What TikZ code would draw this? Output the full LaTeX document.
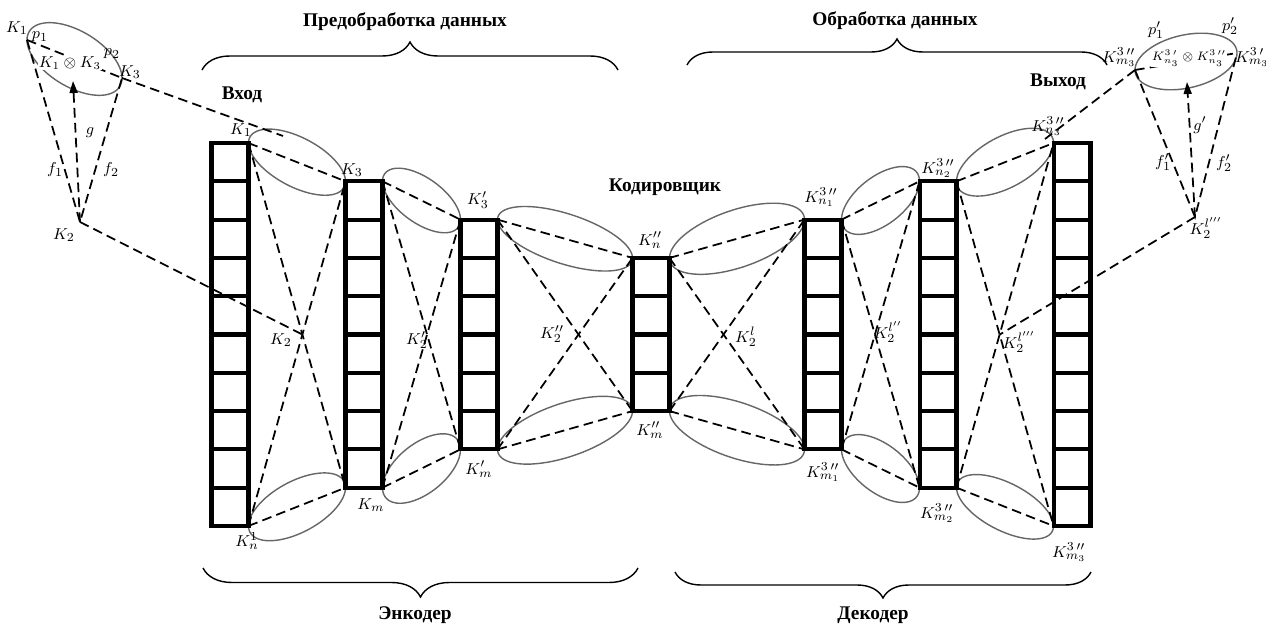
\documentclass[tikz,border=0pt]{standalone}
\usepackage{fontspec}
\setmainfont{Liberation Serif}
\usetikzlibrary{calc, arrows.meta, backgrounds, decorations.pathreplacing}
\tikzset{
	colbox/.style  ={rectangle, draw=black, line width=2.3pt, minimum width=0.74cm, inner sep=0pt, outer sep=0pt},
	cellline/.style={line width=2.3pt},
	dashline/.style={line width=1pt, dash pattern=on 5.5pt off 3pt},
	lobe/.style    ={draw=black!60, line width=0.8pt},
	head/.style    ={font=\fontsize{11}{13}\selectfont\bfseries},
	klab/.style    ={font=\fontsize{9.5}{11}\selectfont, inner sep=1pt},
	brc/.style     ={decorate, decoration={brace, amplitude=#1}, line width=0.8pt},
	garrow/.style  ={dashline, -{Triangle[length=2.4mm, width=1.6mm]}},
}
% ellipse through two corner points, #3 = half thickness (px)
\newcommand\drawlobe[3]{%
	\draw[lobe] let \p1=(#1), \p2=(#2) in
		plot[variable=\t, domain=0:360, samples=73]
		({(\x1+\x2)/2+(\x2-\x1)/2*cos(\t)}, {(\y1+\y2)/2+(\y2-\y1)/2*cos(\t)+#3*0.569*sin(\t)}) -- cycle;}

\begin{document}
\begin{tikzpicture}[x=0.02cm, y=-0.02cm]
	\useasboundingbox (0,0) rectangle (1266,624);
	% layer columns
	\node[colbox, minimum height=7.66cm]  (c1) at (230,334.5) {};
	\node[colbox, minimum height=6.128cm] (c2) at (364,334.5) {};
	\node[colbox, minimum height=4.596cm] (c3) at (479,334.5) {};
	\node[colbox, minimum height=3.064cm] (c4) at (651,334.5) {};
	\node[colbox, minimum height=4.596cm] (c5) at (823,334.5) {};
	\node[colbox, minimum height=6.128cm] (c6) at (938,334.5) {};
	\node[colbox, minimum height=7.66cm]  (c7) at (1072,334.5) {};
	\foreach \c/\n in {c1/10, c2/8, c3/6, c4/4, c5/6, c6/8, c7/10}
		\foreach \k in {1,...,\n}
			\draw[cellline] ($(\c.north west)!\k/\n!(\c.south west)$) -- ($(\c.north east)!\k/\n!(\c.south east)$);
	\coordinate (x12) at (intersection of c1.north east--c2.south west and c1.south east--c2.north west);
	\coordinate (x67) at (intersection of c6.north east--c7.south west and c6.south east--c7.north west);
	% cones
	\coordinate (lk1) at (27,40);   \coordinate (lk3) at (122,78);
	\coordinate (lk2) at (80,222);  \coordinate (lg) at (73,81);
	\coordinate (lend) at (283,136);
	\coordinate (rk1) at (1135,70); \coordinate (rk3) at (1237,53);
	\coordinate (rk2) at (1195,217); \coordinate (rg) at (1187,82);
	\coordinate (rend) at (1045,139);
	\begin{scope}[on background layer]
		\foreach \a/\b/\vt/\vb in {c1/c2/27/28, c2/c3/26/29, c3/c4/26/28, c4/c5/30/29, c5/c6/28/28, c6/c7/28/26} {
			\drawlobe{\a.north east}{\b.north west}{\vt}
			\drawlobe{\a.south east}{\b.south west}{\vb}
			\draw[dashline] (\a.north east) -- (\b.north west);
			\draw[dashline] (\a.south east) -- (\b.south west);
			\draw[dashline] (\a.north east) -- (\b.south west);
			\draw[dashline] (\a.south east) -- (\b.north west);
		}
		\drawlobe{lk1}{lk3}{31}
		\drawlobe{rk1}{rk3}{27}
		\draw[dashline] (lk1) -- (lk3);
		\draw[dashline] (lk1) -- (lk2) -- (lk3);
		\draw[garrow] (lk2) -- (lg);
		\draw[dashline] (lk2) -- (x12);
		\draw[dashline] (lk3) -- (lend);
		\draw[dashline] (rk1) -- (rk3);
		\draw[dashline] (rk1) -- (rk2) -- (rk3);
		\draw[garrow] (rk2) -- (rg);
		\draw[dashline] (rk2) -- (x67);
		\draw[dashline] (rk1) -- (rend);
	\end{scope}
	% labels
	\foreach \x/\y/\s [count=\i] in {
		241/130/{$K_1$}, 352/170/{$K_3$}, 478/200/{$K'_3$}, 650/240/{$K_n^{\prime\prime}$}, 650/430/{$K_m^{\prime\prime}$},
		281/340/{$K_2$}, 417/340/{$K'_2$}, 552/334/{$K''_2$},
		247/541/{$K_n^1$}, 371/505/{$K_m$}, 479/469/{$K'_m$},
		746/337/{$K_2^{l}$}, 888/332/{$K_2^{l''}$}, 1019/342/{$K_2^{l'''}$},
		821/197/{$K^{3\,\prime\prime}_{n_1}$}, 938/168/{$K^{3\,\prime\prime}_{n_2}$}, 1048/126/{$K^{3\,\prime\prime}_{n_3}$},
		823/472/{$K^{3\,\prime\prime}_{m_1}$}, 937/513/{$K^{3\,\prime\prime}_{m_2}$}, 1069/552/{$K^{3\,\prime\prime}_{m_3}$},
		17/28/{$K_1$}, 40/37/{$p_1$}, 112/54/{$p_2$}, 130/72/{$K_3$}, 90/133/{$g$}, 55/170/{$f_1$}, 111/170/{$f_2$}, 64/235/{$K_2$},
		1119/57/{$K^{3\,\prime\prime}_{m_3}$}, 1156/30/{$p'_1$}, 1230/26/{$p'_2$}, 1252/57/{$K^{3\,\prime}_{m_3}$},
		1200/125/{$g'$}, 1163/162/{$f'_1$}, 1224/163/{$f'_2$}, 1206/228/{$K_2^{l'''}$}}
		\node[klab] (lab\i) at (\x,\y) {\s};
	\node[klab, fill=white, inner sep=0.3pt, font=\fontsize{9}{10}\selectfont] (lprod) at (70,63) {$K_1\otimes K_3$};
	\node[klab, fill=white, inner sep=0.3pt, font=\fontsize{7.5}{9}\selectfont] (rprod) at (1189,58) {$K^{3\,\prime}_{n_3}\otimes K^{3\,\prime\prime}_{n_3}$};
	% headings and braces
	\node[head] (pre)  at (405,22)  {Предобработка данных};
	\node[head] (obr)  at (895,21)  {Обработка данных};
	\node[head] (vhod) at (242,95)  {Вход};
	\node[head] (vyh)  at (1058,82) {Выход};
	\node[head] (kod)  at (665,187) {Кодировщик};
	\node[head] (enc)  at (415,615) {Энкодер};
	\node[head] (dec)  at (873,615) {Декодер};
	\draw[brc=0.56cm] (202,70) -- (618,70);
	\draw[brc=0.52cm] (687,65) -- (1107,65);
	\draw[brc=0.58cm] (638,568) -- (203,568);
	\draw[brc=0.52cm] (1091,572) -- (675,572);
\end{tikzpicture}
\end{document}
